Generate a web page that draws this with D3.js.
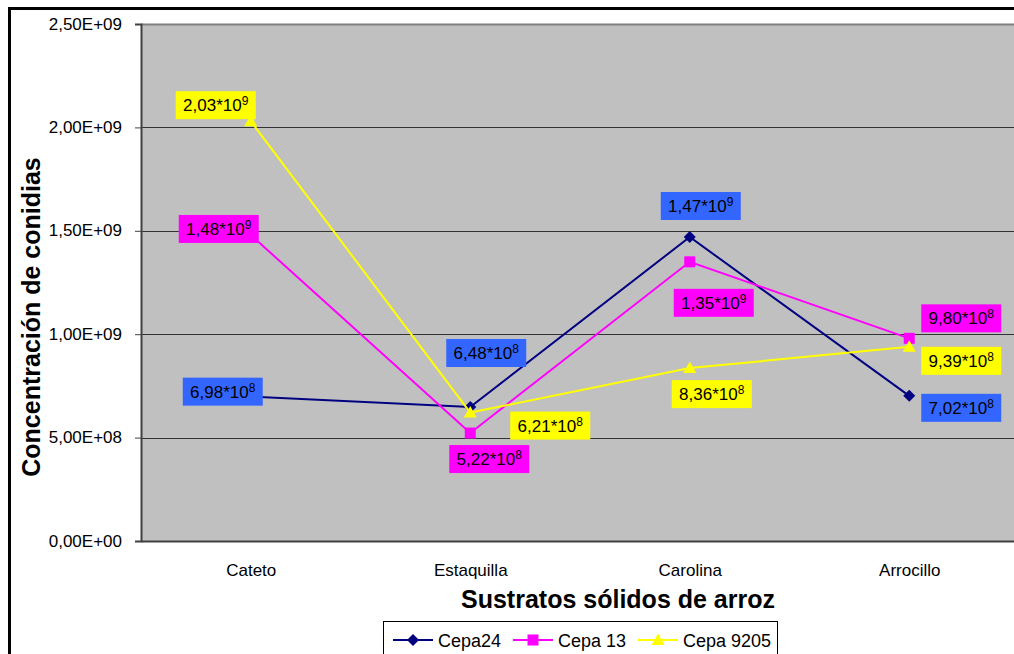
<!DOCTYPE html>
<html>
<head>
<meta charset="utf-8">
<script src="https://cdn.jsdelivr.net/npm/d3@7"></script>
<style>
  html, body { margin: 0; padding: 0; background: #fff; }
  svg { display: block; font-family: "Liberation Sans", Arial, sans-serif; }
</style>
</head>
<body>
<svg id="chart" width="1014" height="654"></svg>
<script>
// Sustrato categories and conidia concentration per strain
const categories = ["Cateto", "Estaquilla", "Carolina", "Arrocillo"];
const cepa24 = [6.98e8, 6.48e8, 1.47e9, 7.02e8];
const cepa13 = [1.48e9, 5.22e8, 1.35e9, 9.80e8];
const cepa9205 = [2.03e9, 6.21e8, 8.36e8, 9.39e8];
const yTicks = [0, 5e8, 1e9, 1.5e9, 2e9, 2.5e9];
const yTickLabels = ["0,00E+00", "5,00E+08", "1,00E+09", "1,50E+09", "2,00E+09", "2,50E+09"];

// Data-label placement: offset of each label box centre from its point
const labelOffsets = {
  "Cepa24":    [[-28, -5], [16, -54], [11, -31], [52, 12]],
  "Cepa 13":   [[-32, -6], [19, 26], [24, 41], [52, -20]],
  "Cepa 9205": [[-35, -16], [80, 13], [22, 26], [52, 14]]
};

const FONT = "'Liberation Sans', Arial, sans-serif";

const series = [
  { name: "Cepa24", values: cepa24, line: "#000080", labelFill: "#3366FF", marker: "diamond" },
  { name: "Cepa 13", values: cepa13, line: "#FF00FF", labelFill: "#FF00FF", marker: "square" },
  { name: "Cepa 9205", values: cepa9205, line: "#FFFF00", labelFill: "#FFFF00", marker: "triangle" }
];

const svg = d3.select("#chart");
const plot = { left: 141, right: 1019, top: 24, bottom: 541 };

const x = d3.scalePoint().domain(categories).range([plot.left, plot.right]).padding(0.5);
const y = d3.scaleLinear().domain([0, 2.5e9]).range([plot.bottom, plot.top]);

// Outer chart frame
svg.append("rect")
  .attr("x", 9.5).attr("y", 8.5)
  .attr("width", 1100).attr("height", 700)
  .attr("fill", "#fff").attr("stroke", "#000").attr("stroke-width", 3);

// Plot area
svg.append("rect")
  .attr("x", plot.left).attr("y", plot.top)
  .attr("width", plot.right - plot.left).attr("height", plot.bottom - plot.top)
  .attr("fill", "#C0C0C0");
svg.append("line")
  .attr("x1", plot.left).attr("x2", plot.right)
  .attr("y1", plot.top + 0.5).attr("y2", plot.top + 0.5)
  .attr("stroke", "#808080").attr("stroke-width", 2);

// Gridlines
svg.append("g").selectAll("line")
  .data(yTicks.filter(d => d > 0 && d < 2.5e9))
  .join("line")
  .attr("x1", plot.left).attr("x2", plot.right)
  .attr("y1", d => Math.round(y(d)) + 0.5).attr("y2", d => Math.round(y(d)) + 0.5)
  .attr("stroke", "#333").attr("stroke-width", 1);

// Y axis
const yAxis = d3.axisLeft(y)
  .tickValues(yTicks)
  .tickSize(6)
  .tickPadding(13)
  .tickFormat((d, i) => yTickLabels[i]);
const gy = svg.append("g").attr("transform", `translate(${plot.left},0)`).call(yAxis)
  .attr("font-family", FONT).attr("font-size", 17);
gy.select(".domain").attr("stroke", "#404040").attr("stroke-width", 2);
gy.selectAll(".tick line").attr("stroke", "#404040");
gy.selectAll(".tick text").attr("fill", "#000").attr("dy", "0.3em");

// X axis
const xAxis = d3.axisBottom(x).tickSize(0).tickPadding(0);
const gx = svg.append("g").attr("transform", `translate(0,${plot.bottom})`).call(xAxis)
  .attr("font-family", FONT).attr("font-size", 17);
gx.select(".domain").attr("stroke", "#404040").attr("stroke-width", 2);
gx.selectAll(".tick text").attr("fill", "#000").attr("y", 35).attr("dy", 0);

// Axis titles
svg.append("text")
  .attr("x", 618).attr("y", 608)
  .attr("text-anchor", "middle")
  .attr("font-size", 25).attr("font-weight", "bold")
  .text("Sustratos sólidos de arroz");
svg.append("text")
  .attr("transform", "translate(40,317) rotate(-90)")
  .attr("text-anchor", "middle")
  .attr("font-size", 25).attr("font-weight", "bold")
  .text("Concentración de conidias");

// Marker shapes
function markerPath(type) {
  if (type === "diamond") return "M0,-6L6,0L0,6L-6,0Z";
  if (type === "square") return "M-5.5,-5.5H5.5V5.5H-5.5Z";
  return "M0,-6.5L6.5,5L-6.5,5Z";
}

const line = d3.line().x((d, i) => x(categories[i])).y(d => y(d));

// Lines and markers
series.forEach(s => {
  svg.append("path")
    .attr("d", line(s.values))
    .attr("fill", "none").attr("stroke", s.line).attr("stroke-width", 2);
  svg.append("g").selectAll("path")
    .data(s.values)
    .join("path")
    .attr("transform", (d, i) => `translate(${x(categories[i])},${y(d)})`)
    .attr("d", markerPath(s.marker))
    .attr("fill", s.line);
});

// Value labels, e.g. 2,03*10^9
function splitValue(v) {
  const exp = Math.floor(Math.log10(v));
  const mant = (v / Math.pow(10, exp)).toFixed(2).replace(".", ",");
  return { mant, exp };
}

series.forEach(s => {
  s.values.forEach((v, i) => {
    const [dx, dy] = labelOffsets[s.name][i];
    const cx = x(categories[i]) + dx;
    const cy = y(v) + dy;
    const g = svg.append("g");
    g.append("rect")
      .attr("x", cx - 40).attr("y", cy - 14)
      .attr("width", 80).attr("height", 28)
      .attr("fill", s.labelFill);
    const { mant, exp } = splitValue(v);
    const t = g.append("text")
      .attr("x", cx).attr("y", cy + 6)
      .attr("text-anchor", "middle")
      .attr("font-size", 17).attr("fill", "#000");
    t.append("tspan").text(mant + "*10");
    t.append("tspan").attr("font-size", 12).attr("dy", -6).text(exp);
  });
});

// Legend
const legend = svg.append("g");
legend.append("rect")
  .attr("x", 383.5).attr("y", 621.5)
  .attr("width", 394).attr("height", 40)
  .attr("fill", "#fff").attr("stroke", "#000").attr("stroke-width", 1);
const legendX = [393, 513, 638];
series.forEach((s, i) => {
  const lx = legendX[i];
  const ly = 640;
  legend.append("line")
    .attr("x1", lx).attr("x2", lx + 40).attr("y1", ly).attr("y2", ly)
    .attr("stroke", s.line).attr("stroke-width", 2);
  legend.append("path")
    .attr("transform", `translate(${lx + 20},${ly})`)
    .attr("d", markerPath(s.marker))
    .attr("fill", s.line);
  legend.append("text")
    .attr("x", lx + 45).attr("y", 647)
    .attr("font-size", 18).attr("fill", "#000")
    .text(s.name);
});
</script>
</body>
</html>
